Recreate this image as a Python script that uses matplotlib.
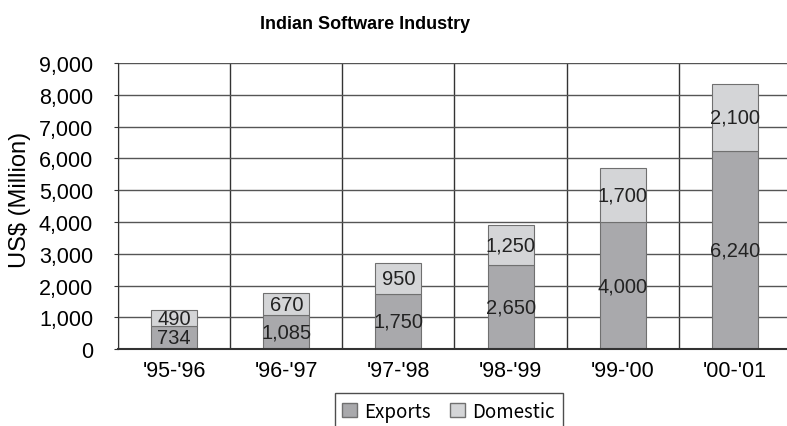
import numpy as np
import matplotlib.pyplot as plt
from matplotlib.patches import Patch

years = ["'95-'96", "'96-'97", "'97-'98", "'98-'99", "'99-'00", "'00-'01"]
exports = [734, 1085, 1750, 2650, 4000, 6240]
domestic = [490, 670, 950, 1250, 1700, 2100]

exp_color = '#a9a9ac'
dom_color = '#d4d5d7'
edge = '#707070'

plt.rcParams['font.family'] = ['Liberation Sans', 'DejaVu Sans']

fig = plt.figure(figsize=(7.87, 4.27), dpi=100)
ax = fig.add_axes([0.150, 0.180, 0.855, 0.670])

x = np.arange(len(years))
ax.bar(x, exports, width=0.41, color=exp_color, edgecolor=edge, linewidth=0.8, zorder=2)
ax.bar(x, domestic, width=0.41, bottom=exports, color=dom_color, edgecolor=edge,
       linewidth=0.8, zorder=2)

# value labels centred in each segment
for i in range(len(years)):
    ax.text(x[i], exports[i] / 2, f'{exports[i]:,}', ha='center', va='center',
            fontsize=14.5, color='#222222', zorder=3)
    ax.text(x[i], exports[i] + domestic[i] / 2, f'{domestic[i]:,}', ha='center',
            va='center', fontsize=14.5, color='#222222', zorder=3)

ax.set_xlim(-0.5, len(years) - 0.5)
ax.set_ylim(0, 9000)
ax.set_yticks(np.arange(0, 9001, 1000))
ax.set_yticklabels([f'{v:,}' for v in range(0, 9001, 1000)], fontsize=15.5)
ax.set_xticks(x)
ax.set_xticklabels(years, fontsize=15.5)
ax.set_xticks(np.arange(-0.5, len(years), 1), minor=True)

ax.yaxis.grid(True, color='#555555', linewidth=1.0, zorder=0)
ax.xaxis.grid(True, which='minor', color='#333333', linewidth=1.0, zorder=0)
ax.set_axisbelow(True)
ax.tick_params(axis='x', which='both', length=0, pad=8)
ax.tick_params(axis='y', length=3, color='#333333', pad=15)

for s in ['top', 'right']:
    ax.spines[s].set_visible(False)
ax.spines['left'].set_color('#333333')
ax.spines['bottom'].set_color('#333333')
ax.spines['bottom'].set_linewidth(1.5)

fig.text(20 / 787, 0.532, 'US$ (Million)', rotation=90, ha='center', va='center',
         fontsize=17)
fig.text(365 / 787, 0.942, 'Indian Software Industry', ha='center', va='center',
         fontsize=13, fontweight='bold')

handles = [Patch(facecolor=exp_color, edgecolor=edge, label='Exports'),
           Patch(facecolor=dom_color, edgecolor=edge, label='Domestic')]
fig.legend(handles=handles, loc='upper center', bbox_to_anchor=(0.57, 0.099), ncol=2,
           frameon=True, fancybox=False, edgecolor='#222222',
           handlelength=0.8, handleheight=0.8, handletextpad=0.4, columnspacing=1.0,
           borderpad=0.4, prop={'family': ['Noto Sans CJK JP', 'DejaVu Sans'], 'size': 13.5})

fig.savefig('out.png', dpi=100)
